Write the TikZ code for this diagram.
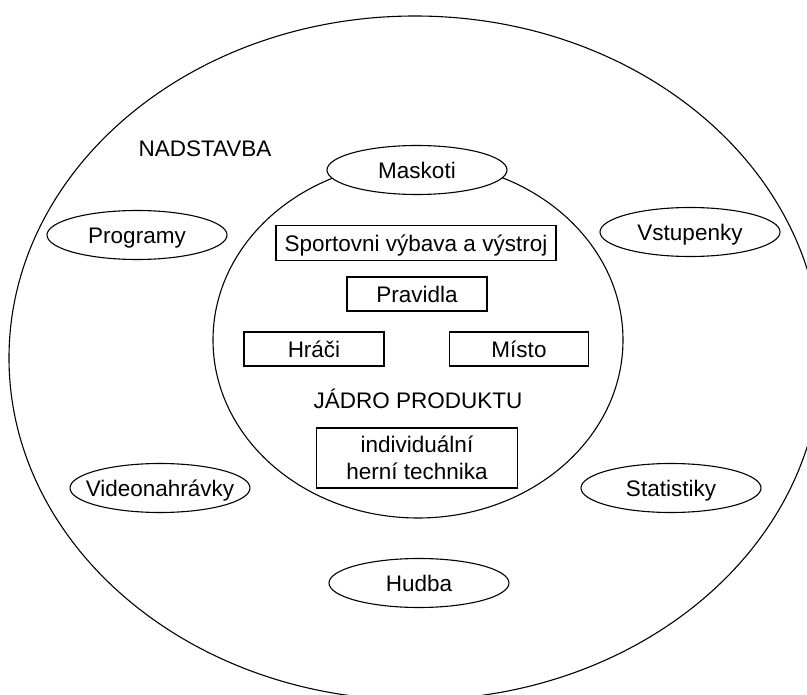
\documentclass[tikz,border=0pt]{standalone}
\usepackage{fontspec}
\setmainfont{Liberation Sans}
\usetikzlibrary{shapes.geometric}
\begin{document}
\begin{tikzpicture}[x=1pt,y=-1pt,
  fnt/.style={font=\fontsize{22.5}{27}\selectfont, inner sep=0pt},
  txt/.style={fnt, text height=16.1pt, text depth=0pt},
  ring/.style={draw, ellipse, line width=1.1pt, inner sep=0pt},
  oval/.style={draw, ellipse, line width=1.1pt, fill=white, minimum width=180pt, minimum height=49pt, txt},
  box/.style={draw, rectangle, line width=1.3pt, txt},
  twobox/.style={draw, rectangle, line width=1.3pt, fnt, align=center}
]
\useasboundingbox (0,0) rectangle (807,695);
\node[ring, minimum width=812pt, minimum height=684pt] (outer) at (415,358) {};
\node[ring, minimum width=410pt, minimum height=356pt] (inner) at (418,340) {};
\node[txt] (nad) at (205,148) {NADSTAVBA};
\node[oval] (mask) at (417,170) {Maskoti};
\node[oval] (prog) at (137,235) {Programy};
\node[oval] (vst) at (690,232) {Vstupenky};
\node[oval, inner xsep=-12pt] (video) at (160,488) {Videonahrávky};
\node[oval] (stat) at (671,488) {Statistiky};
\node[oval] (hud) at (419,583) {Hudba};
\node[box, minimum width=280pt, minimum height=35pt] (sport) at (416,243) {Sportovni výbava a výstroj};
\node[box, minimum width=140pt, minimum height=34pt] (prav) at (417,294) {Pravidla};
\node[box, minimum width=140pt, minimum height=34pt] (hraci) at (314,349) {Hráči};
\node[box, minimum width=139pt, minimum height=34pt] (misto) at (519,349) {Místo};
\node[txt] (jadro) at (418,400) {JÁDRO PRODUKTU};
\node[twobox, minimum width=201pt, minimum height=60pt] (indiv) at (417,458) {individuální\\herní technika};
\end{tikzpicture}
\end{document}
